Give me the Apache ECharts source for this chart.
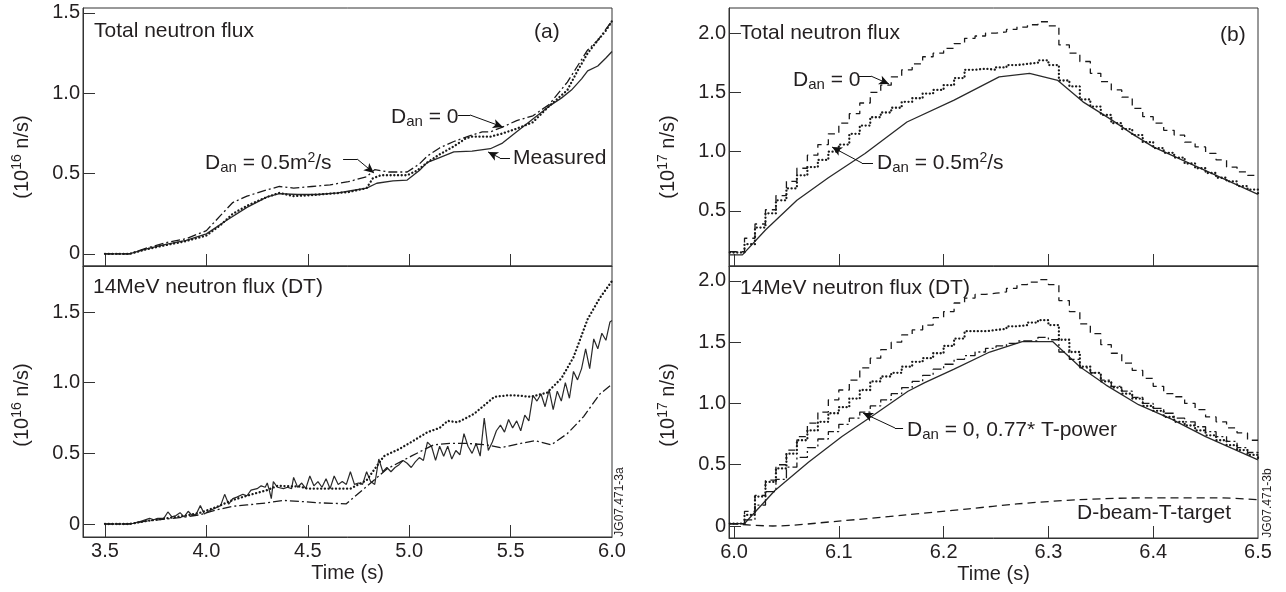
<!DOCTYPE html>
<html><head><meta charset="utf-8">
<script src="https://cdn.jsdelivr.net/npm/echarts@6/dist/echarts.min.js"></script>
<style>html,body{margin:0;padding:0;background:#fff}#c{width:1286px;height:592px}</style>
</head><body><div id="c"></div>
<script>
// ---------- Panel (a) top: total neutron flux (1e16 n/s) ----------
const tlMeasured = [[3.5,0],[3.62,0],[3.7,0.03],[3.8,0.06],[3.9,0.085],[4.0,0.125],[4.1,0.21],[4.2,0.29],[4.3,0.355],[4.36,0.375],[4.45,0.37],[4.55,0.37],[4.65,0.38],[4.72,0.395],[4.79,0.41],[4.84,0.44],[4.92,0.455],[4.99,0.46],[5.05,0.52],[5.09,0.57],[5.15,0.60],[5.22,0.635],[5.31,0.64],[5.40,0.655],[5.46,0.69],[5.53,0.76],[5.61,0.84],[5.69,0.92],[5.75,0.97],[5.80,1.02],[5.85,1.09],[5.88,1.14],[5.93,1.17],[5.97,1.22],[6.0,1.26]];
const tlDan05 = [[3.5,0],[3.62,0],[3.7,0.028],[3.8,0.055],[3.9,0.08],[4.0,0.115],[4.07,0.18],[4.13,0.25],[4.2,0.30],[4.3,0.355],[4.36,0.38],[4.43,0.36],[4.5,0.365],[4.61,0.375],[4.7,0.385],[4.79,0.41],[4.82,0.47],[4.86,0.49],[4.99,0.49],[5.04,0.52],[5.09,0.57],[5.15,0.62],[5.22,0.67],[5.28,0.72],[5.31,0.73],[5.40,0.73],[5.46,0.75],[5.53,0.78],[5.61,0.82],[5.69,0.92],[5.78,1.02],[5.83,1.14],[5.88,1.25],[5.93,1.33],[5.97,1.39],[6.0,1.45]];
const tlDan0 = [[3.5,0],[3.62,0],[3.7,0.035],[3.8,0.07],[3.9,0.095],[4.0,0.145],[4.07,0.24],[4.13,0.32],[4.2,0.36],[4.3,0.40],[4.36,0.42],[4.43,0.41],[4.52,0.42],[4.61,0.43],[4.7,0.45],[4.79,0.48],[4.83,0.525],[4.9,0.51],[4.99,0.51],[5.05,0.56],[5.09,0.61],[5.15,0.66],[5.22,0.70],[5.31,0.74],[5.36,0.76],[5.40,0.76],[5.46,0.79],[5.53,0.83],[5.61,0.86],[5.69,0.93],[5.78,1.07],[5.83,1.17],[5.88,1.27],[5.93,1.33],[5.97,1.40],[6.0,1.45]];

// ---------- Panel (a) bottom: 14 MeV (DT) neutron flux ----------
const blMeasured = [[3.5,0],[3.55,0],[3.6,0],[3.64,0.005],[3.68,0.02],[3.72,0.04],[3.74,0.03],[3.76,0.04],[3.79,0.04],[3.81,0.085],[3.83,0.05],[3.85,0.06],[3.87,0.08],[3.89,0.05],[3.91,0.09],[3.93,0.06],[3.95,0.07],[3.97,0.13],[3.99,0.07],[4.01,0.09],[4.04,0.11],[4.07,0.13],[4.09,0.21],[4.11,0.14],[4.13,0.18],[4.15,0.19],[4.18,0.21],[4.20,0.20],[4.22,0.24],[4.25,0.25],[4.27,0.27],[4.29,0.26],[4.30,0.29],[4.31,0.24],[4.32,0.18],[4.33,0.30],[4.35,0.26],[4.38,0.25],[4.40,0.26],[4.42,0.25],[4.43,0.33],[4.45,0.26],[4.47,0.29],[4.49,0.25],[4.51,0.34],[4.53,0.27],[4.55,0.30],[4.57,0.26],[4.59,0.32],[4.61,0.25],[4.63,0.34],[4.65,0.28],[4.67,0.30],[4.69,0.28],[4.71,0.37],[4.73,0.28],[4.75,0.29],[4.77,0.28],[4.79,0.37],[4.81,0.30],[4.83,0.28],[4.85,0.46],[4.87,0.37],[4.89,0.40],[4.91,0.37],[4.93,0.40],[4.95,0.42],[4.97,0.45],[4.99,0.43],[5.01,0.40],[5.03,0.44],[5.05,0.47],[5.07,0.45],[5.09,0.58],[5.11,0.55],[5.13,0.45],[5.15,0.55],[5.17,0.48],[5.19,0.55],[5.21,0.46],[5.23,0.52],[5.25,0.49],[5.27,0.64],[5.29,0.55],[5.31,0.50],[5.33,0.57],[5.35,0.48],[5.37,0.75],[5.39,0.52],[5.41,0.58],[5.43,0.66],[5.45,0.70],[5.47,0.65],[5.49,0.74],[5.51,0.68],[5.53,0.73],[5.55,0.66],[5.57,0.77],[5.59,0.73],[5.61,0.91],[5.63,0.87],[5.65,0.92],[5.67,0.83],[5.69,0.95],[5.71,0.81],[5.73,0.94],[5.75,0.87],[5.77,1.00],[5.79,0.89],[5.81,1.08],[5.83,1.02],[5.85,1.10],[5.87,1.24],[5.89,1.10],[5.91,1.31],[5.93,1.24],[5.95,1.35],[5.97,1.30],[5.99,1.43],[6.0,1.44]];
const blDotted = [[3.5,0],[3.62,0],[3.7,0.02],[3.8,0.04],[3.9,0.06],[3.97,0.08],[4.05,0.12],[4.13,0.17],[4.2,0.20],[4.3,0.24],[4.35,0.27],[4.46,0.265],[4.5,0.25],[4.61,0.25],[4.71,0.25],[4.79,0.31],[4.875,0.48],[4.95,0.53],[5.01,0.58],[5.09,0.65],[5.15,0.68],[5.19,0.73],[5.24,0.72],[5.32,0.78],[5.37,0.84],[5.42,0.90],[5.48,0.91],[5.53,0.91],[5.60,0.90],[5.68,0.93],[5.75,1.03],[5.81,1.18],[5.88,1.45],[5.94,1.60],[6.0,1.72]];
const blDashDot = [[3.5,0],[3.62,0],[3.7,0.02],[3.8,0.035],[3.9,0.05],[3.97,0.066],[4.05,0.10],[4.13,0.125],[4.2,0.135],[4.3,0.15],[4.38,0.167],[4.46,0.16],[4.55,0.15],[4.69,0.143],[4.79,0.265],[4.89,0.39],[5.01,0.48],[5.12,0.56],[5.2,0.57],[5.29,0.57],[5.38,0.56],[5.45,0.54],[5.55,0.57],[5.62,0.59],[5.70,0.56],[5.78,0.64],[5.86,0.76],[5.94,0.92],[6.0,0.99]];

// ---------- Panel (b): step times 6.00 ... 6.50 (0.01 s) ----------
const stepTimes = Array.from({length: 51}, (_, i) => Math.round((6 + i * 0.01) * 100) / 100);
// top: total neutron flux (1e17 n/s)
const trDan0 = [0.156,0.27,0.39,0.51,0.63,0.75,0.86,0.97,1.06,1.15,1.24,1.32,1.41,1.50,1.56,1.63,1.69,1.74,1.80,1.83,1.87,1.91,1.955,1.975,2.00,2.01,2.03,2.05,2.07,2.095,2.06,1.90,1.83,1.76,1.66,1.59,1.52,1.46,1.365,1.295,1.24,1.18,1.14,1.08,1.04,0.985,0.93,0.87,0.83,0.80,0.80];
const trDan05 = [0.15,0.22,0.36,0.48,0.59,0.69,0.80,0.87,0.93,1.00,1.06,1.15,1.22,1.29,1.33,1.37,1.42,1.45,1.49,1.52,1.56,1.62,1.69,1.70,1.69,1.71,1.73,1.74,1.75,1.77,1.73,1.60,1.55,1.44,1.38,1.31,1.24,1.19,1.14,1.08,1.03,0.99,0.95,0.90,0.86,0.82,0.78,0.75,0.71,0.68,0.65];
const trMeasured = [[5.996,0.13],[6.008,0.13],[6.03,0.34],[6.06,0.59],[6.09,0.78],[6.125,0.985],[6.165,1.25],[6.21,1.435],[6.253,1.63],[6.282,1.66],[6.309,1.60],[6.333,1.42],[6.36,1.27],[6.38,1.15],[6.40,1.04],[6.43,0.92],[6.46,0.80],[6.50,0.64]];
// bottom: 14 MeV (DT) neutron flux (1e17 n/s)
const brDan0 = [0.02,0.12,0.25,0.375,0.50,0.62,0.73,0.84,0.93,1.03,1.11,1.19,1.29,1.37,1.44,1.50,1.56,1.60,1.64,1.70,1.75,1.82,1.86,1.89,1.90,1.91,1.94,1.97,1.99,2.01,1.97,1.84,1.75,1.65,1.57,1.48,1.41,1.33,1.27,1.205,1.14,1.08,1.055,1.00,0.95,0.89,0.85,0.80,0.76,0.70,0.70];
const brDan05 = [0.02,0.09,0.24,0.36,0.47,0.59,0.70,0.78,0.85,0.92,0.97,1.04,1.11,1.18,1.22,1.25,1.30,1.34,1.37,1.41,1.47,1.53,1.59,1.59,1.60,1.61,1.63,1.64,1.66,1.68,1.64,1.52,1.42,1.30,1.25,1.18,1.13,1.08,1.04,0.98,0.94,0.89,0.85,0.82,0.78,0.74,0.70,0.66,0.62,0.58,0.55];
const brTpower = [0.02,0.05,0.17,0.28,0.38,0.48,0.56,0.64,0.71,0.77,0.83,0.88,0.93,0.98,1.03,1.08,1.13,1.18,1.23,1.28,1.32,1.36,1.39,1.42,1.45,1.47,1.49,1.51,1.51,1.54,1.52,1.42,1.36,1.29,1.25,1.19,1.14,1.10,1.05,1.00,0.96,0.92,0.88,0.85,0.81,0.77,0.73,0.69,0.64,0.60,0.55];
const brMeasured = [[5.996,0.02],[6.01,0.02],[6.039,0.29],[6.071,0.52],[6.103,0.73],[6.134,0.91],[6.166,1.10],[6.182,1.17],[6.21,1.28],[6.244,1.42],[6.275,1.505],[6.304,1.505],[6.33,1.30],[6.355,1.15],[6.386,0.99],[6.418,0.87],[6.45,0.73],[6.5,0.54]];
const brBeamTarget = [[5.996,0.02],[6.037,0.0],[6.10,0.04],[6.164,0.09],[6.224,0.14],[6.27,0.18],[6.33,0.215],[6.396,0.23],[6.46,0.23],[6.5,0.215]];

// ---------- ticks ----------
const xTicksA = [3.5,4.0,4.5,5.0,5.5,6.0];
const xTicksB = [6.0,6.1,6.2,6.3,6.4,6.5];
const yTicksA = [0,0.5,1.0,1.5];
const yTicksTR = [0.5,1.0,1.5,2.0];
const yTicksBR = [0,0.5,1.0,1.5,2.0];

const FF = "'Liberation Sans', Arial, Helvetica, sans-serif";
const TC = '#231f20';
const LC = '#1a1a1a';

const stepData = (arr, t0) => [[t0, arr[0]]].concat(stepTimes.map((t, i) => [t, arr[i]]));

function xAx(grid, min, max, ticks, showLabels) {
  return {
    type: 'value', gridIndex: grid, min: min, max: max,
    splitLine: {show: false},
    axisLine: {show: true, onZero: false, lineStyle: {color: '#333', width: 1}},
    axisTick: {show: true, inside: true, length: 12, customValues: ticks.slice(0, -1), lineStyle: {color: '#333', width: 1}},
    axisLabel: {show: showLabels, customValues: ticks, margin: 4, fontSize: 20, fontFamily: FF, color: TC,
      formatter: v => v.toFixed(1)},
    name: showLabels ? 'Time (s)' : '', nameLocation: 'middle', nameGap: 26,
    nameTextStyle: {fontSize: 20, fontFamily: FF, color: TC}
  };
}
function yAx(grid, min, max, ticks) {
  return {
    type: 'value', gridIndex: grid, min: min, max: max,
    splitLine: {show: false},
    axisLine: {show: true, onZero: false, lineStyle: {color: '#333', width: 1}},
    axisTick: {show: true, inside: true, length: 12, customValues: ticks, lineStyle: {color: '#333', width: 1}},
    axisLabel: {show: true, customValues: ticks, margin: 3, fontSize: 20, fontFamily: FF, color: TC,
      formatter: v => v === 0 ? '0' : v.toFixed(1)}
  };
}

const SOLID = {color: '#2a2a2a', width: 1.3, type: 'solid'};
const DOT = {color: LC, width: 2.3, type: [0.1, 3.6], cap: 'round'};
const DASHDOT = {color: LC, width: 1.3, type: [9, 3, 2, 3]};
const DASH = {color: LC, width: 1.3, type: [7, 5]};
const DASH2 = {color: LC, width: 1.3, type: [8, 5]};

function line(name, xi, data, style, extra) {
  return Object.assign({
    name: name, type: 'line', xAxisIndex: xi, yAxisIndex: xi, data: data,
    showSymbol: false, symbol: 'none', lineStyle: style, silent: true, animation: false
  }, extra || {});
}
function leader(points) {
  return {
    silent: true, animation: false, symbol: ['none', 'none'], label: {show: false},
    lineStyle: {color: '#111', width: 1, type: 'solid'},
    data: [
      [{coord: points[0]}, {coord: points[1]}],
      [{coord: points[1]}, {coord: points[2], symbol: 'arrow', symbolSize: [7, 10]}]
    ]
  };
}

const RICH = {
  sub: {fontSize: 15, fontFamily: FF, fill: TC, verticalAlign: 'bottom', lineHeight: 15},
  sup: {fontSize: 14, fontFamily: FF, fill: TC, verticalAlign: 'top', lineHeight: 14}
};
function txt(x, y, text, extra) {
  return {type: 'text', x: x, y: y, z: 100, silent: true,
    style: Object.assign({text: text, fontFamily: FF, fontSize: 21, lineHeight: 24, fill: TC,
      verticalAlign: 'middle', align: 'left', rich: RICH}, extra || {})};
}
function rotTxt(x, y, text, size) {
  return {type: 'text', x: x, y: y, z: 100, silent: true, rotation: Math.PI / 2,
    style: {text: text, fontFamily: FF, fontSize: size, lineHeight: size + 4, fill: TC,
      align: 'center', verticalAlign: 'middle', rich: RICH}};
}

const option = {
  animation: false,
  backgroundColor: '#fff',
  grid: [
    {left: 83, top: 8, width: 529, height: 258, show: true, borderColor: '#333', borderWidth: 1},
    {left: 83, top: 266, width: 529, height: 271, show: true, borderColor: '#333', borderWidth: 1},
    {left: 729, top: 8, width: 529, height: 258, show: true, borderColor: '#333', borderWidth: 1},
    {left: 729, top: 266, width: 529, height: 272, show: true, borderColor: '#333', borderWidth: 1}
  ],
  xAxis: [
    xAx(0, 3.3915, 6.0, xTicksA, false),
    xAx(1, 3.3915, 6.0, xTicksA, true),
    xAx(2, 5.9952, 6.5, xTicksB, false),
    xAx(3, 5.9952, 6.5, xTicksB, true)
  ],
  yAxis: [
    yAx(0, -0.075, 1.531, yTicksA),
    yAx(1, -0.092, 1.826, yTicksA),
    yAx(2, 0.036, 2.211, yTicksTR),
    yAx(3, -0.098, 2.122, yTicksBR)
  ],
  series: [
    line('Measured', 0, tlMeasured, SOLID, {markLine: leader([[5.497, 0.597], [5.448, 0.597], [5.389, 0.635]])}),
    line('Dan=0', 0, tlDan0, DASHDOT, {markLine: leader([[5.241, 0.865], [5.300, 0.865], [5.462, 0.790]])}),
    line('Dan=0.5', 0, tlDan05, DOT, {markLine: leader([[4.674, 0.591], [4.743, 0.591], [4.826, 0.504]])}),

    line('Measured', 1, blMeasured, {color: '#2a2a2a', width: 1.2, type: 'solid'}),
    line('Dotted', 1, blDotted, DOT),
    line('DashDot', 1, blDashDot, DASHDOT),

    line('Measured', 2, trMeasured, SOLID, {markLine: leader([[6.1183, 1.637], [6.1307, 1.637], [6.1479, 1.570]])}),
    line('Dan=0', 2, stepData(trDan0, 5.996), DASH, {step: 'end'}),
    line('Dan=0.5', 2, stepData(trDan05, 5.996), DOT, {step: 'end', markLine: leader([[6.1326, 0.904], [6.1221, 0.904], [6.0935, 1.039]])}),

    line('Measured', 3, brMeasured, SOLID),
    line('Dan=0', 3, stepData(brDan0, 5.996), DASH, {step: 'end'}),
    line('Dan=0.5', 3, stepData(brDan05, 5.996), DOT, {step: 'end'}),
    line('Dan=0 0.77 T-power', 3, stepData(brTpower, 5.996), DASHDOT, {step: 'end', markLine: leader([[6.1613, 0.80], [6.1536, 0.80], [6.1231, 0.922]])}),
    line('D-beam-T-target', 3, brBeamTarget, DASH2, {smooth: 0.3})
  ],
  graphic: [
    txt(94, 31, 'Total neutron flux'),
    txt(534, 32, '(a)'),
    txt(391, 117, 'D{sub|an} = 0'),
    txt(205, 163, 'D{sub|an} = 0.5m{sup|2}/s'),
    txt(513, 158, 'Measured'),
    txt(93, 287, '14MeV neutron flux (DT)'),
    rotTxt(620, 502, 'JG07.471-3a', 12),
    txt(740, 33, 'Total neutron flux'),
    txt(1220, 35, '(b)'),
    txt(793, 80, 'D{sub|an} = 0'),
    txt(877, 163, 'D{sub|an} = 0.5m{sup|2}/s'),
    txt(740, 288, '14MeV neutron flux (DT)'),
    txt(907, 430, 'D{sub|an} = 0, 0.77* T-power'),
    txt(1077, 513, 'D-beam-T-target'),
    rotTxt(1268, 503, 'JG07.471-3b', 12),
    rotTxt(22, 157, '(10{sup|16} n/s)', 20),
    rotTxt(22, 405, '(10{sup|16} n/s)', 20),
    rotTxt(668, 157, '(10{sup|17} n/s)', 20),
    rotTxt(668, 405, '(10{sup|17} n/s)', 20)
  ]
};

const chart = echarts.init(document.getElementById('c'), null, {renderer: 'canvas'});
chart.setOption(option);
</script></body></html>
